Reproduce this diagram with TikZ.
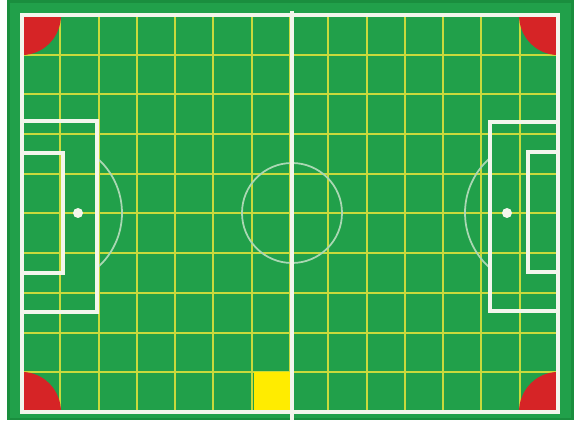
\documentclass[tikz,border=0pt]{standalone}
\usepackage{tikz}
\usepackage{xcolor}
\definecolor{pitch}{RGB}{33,160,74}
\definecolor{rim}{RGB}{26,142,62}
\definecolor{gridln}{RGB}{200,218,60}
\definecolor{chalk}{RGB}{243,246,236}
\definecolor{flag}{RGB}{214,36,38}
\definecolor{cellyel}{RGB}{255,236,0}

\begin{document}
\begin{tikzpicture}[x=0.03cm,y=-0.03cm,
  gridline/.style={gridln,line width=1.7pt},
  chalkline/.style={chalk,line width=3.4pt},
  arcline/.style={chalk!65!pitch,line width=1.5pt}]

  \useasboundingbox (0,0) rectangle (574,422);
  \fill[white] (0,0) rectangle (574,422);
  \fill[rim] (7,0) rectangle (574,420);
  \fill[pitch] (10,3) rectangle (571,418);

  % grid
  \foreach \i in {1,...,13}{
    \draw[gridline] ({round(22+\i*38.29)},15) -- ({round(22+\i*38.29)},412);
  }
  \foreach \j in {1,...,9}{
    \draw[gridline] (22,{round(15+\j*39.7)}) -- (558,{round(15+\j*39.7)});
  }

  % corner quarters
  \foreach \cx/\cy/\dx/\dy in {22/15/39/40, 558/15/-39/40,
                               22/412/39/-40, 558/412/-39/-40}{
    \begin{scope}
      \clip (\cx,\cy) rectangle ++(\dx,\dy);
      \fill[flag] (\cx,\cy) ellipse[x radius=39,y radius=40];
    \end{scope}
  }

  % marked cell
  \fill[cellyel] (253.7,372.3) rectangle (292,412);

  % circle and arcs
  \draw[arcline] (292,213) circle[radius=50];
  \draw[arcline] (49,213) ++(-49:73) arc[start angle=-49,end angle=49,radius=73];
  \draw[arcline] (538,213) ++(131:73) arc[start angle=131,end angle=229,radius=73];

  % lines
  \draw[chalkline] (22,15) rectangle (558,412);
  \draw[chalkline] (292,11) -- (292,420);
  \draw[chalkline] (22,121) -- (97,121) -- (97,312) -- (22,312);
  \draw[chalkline] (22,153) -- (63,153) -- (63,273) -- (22,273);
  \draw[chalkline] (558,122) -- (490,122) -- (490,311) -- (558,311);
  \draw[chalkline] (558,152) -- (528,152) -- (528,272) -- (558,272);

  % spots
  \fill[chalk] (78,213) circle[radius=5];
  \fill[chalk] (507,213) circle[radius=5];
\end{tikzpicture}
\end{document}
